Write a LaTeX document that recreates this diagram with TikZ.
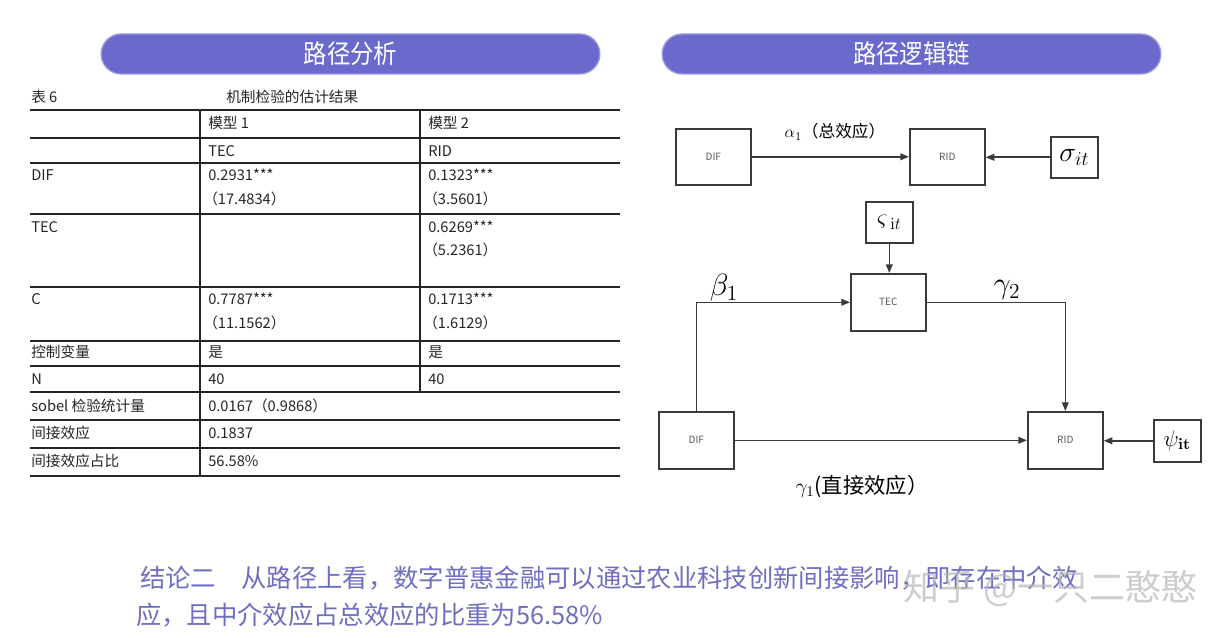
\RequirePackage{fix-cm}
\documentclass[tikz,border=0pt]{standalone}
\usepackage[no-math]{fontspec}
\usepackage{graphicx}
\setmainfont{Noto Sans CJK SC}
\usetikzlibrary{arrows.meta}
\definecolor{banner}{HTML}{6A6ACC}
\definecolor{bannerEdge}{HTML}{9A9ADE}
\definecolor{ink}{HTML}{3A3A3A}
\definecolor{concl}{HTML}{6E6EC2}
\tikzset{
  pill/.style={fill=banner, draw=bannerEdge, line width=1pt, rounded corners=15pt,
    minimum width=374pt, minimum height=30pt, text=white, inner sep=0,
    font=\fontsize{19.5}{20}\selectfont},
  cell/.style={anchor=west, inner sep=0, font=\fontsize{11}{12}\selectfont, text=black!85},
  rule/.style={line width=0.8pt, black!85},
  bigbox/.style={draw=ink, line width=1.2pt, fill=white, minimum width=56.25pt,
    minimum height=42.5pt, inner sep=0, anchor=north west,
    font=\fontsize{7.5}{8}\selectfont, text=black!65},
  smallbox/.style={draw=ink, line width=1.2pt, fill=white, minimum width=35.25pt,
    minimum height=31pt, inner sep=0, anchor=north west},
  arr/.style={draw=ink, line width=1.2pt, -{Triangle[length=6.5pt,width=5pt]}},
  lbl/.style={inner sep=0, text=black},
  concltext/.style={anchor=west, inner sep=0, text=concl, font=\fontsize{19}{20}\selectfont},
}
\begin{document}
\begin{tikzpicture}[x=0.75pt,y=-0.75pt]
\useasboundingbox (0,0) rectangle (1228,638);
\fill[white] (0,0) rectangle (1228,638);

% banners
\node[pill] (ban1) at (350.5,54) {\scalebox{0.9}[1]{路径分析}};
\node[pill] (ban2) at (911.5,54) {\scalebox{0.9}[1]{路径逻辑链}};

% table caption
\node[cell] (cap1) at (31,97) {表 6};
\node[cell] (cap2) at (226,97) {机制检验的估计结果};

% table rules
\foreach \yy in {110,138,163,214,287,341,366,392,420,448,476}
  \draw[rule] (30,\yy) -- (620,\yy);
\draw[rule] (200,110) -- (200,476);
\draw[rule] (420,110) -- (420,392);

% table cells
\node[cell] (h1) at (208,123) {模型 1};
\node[cell] (h2) at (428,123) {模型 2};
\node[cell] (h3) at (208,151) {TEC};
\node[cell] (h4) at (428,151) {RID};

\node[cell] (r1a) at (31,175) {DIF};
\node[cell] (r1b) at (208,175) {0.2931***};
\node[cell] (r1c) at (203,199) {（17.4834）};
\node[cell] (r1d) at (428,175) {0.1323***};
\node[cell] (r1e) at (423,199) {（3.5601）};

\node[cell] (r2a) at (31,227) {TEC};
\node[cell] (r2d) at (428,227) {0.6269***};
\node[cell] (r2e) at (423,250) {（5.2361）};

\node[cell] (r3a) at (31,299) {C};
\node[cell] (r3b) at (208,299) {0.7787***};
\node[cell] (r3c) at (203,323) {（11.1562）};
\node[cell] (r3d) at (428,299) {0.1713***};
\node[cell] (r3e) at (423,323) {（1.6129）};

\node[cell] (r4a) at (31,352) {控制变量};
\node[cell] (r4b) at (208,352) {是};
\node[cell] (r4c) at (428,352) {是};

\node[cell] (r5a) at (31,379) {N};
\node[cell] (r5b) at (208,379) {40};
\node[cell] (r5c) at (428,379) {40};

\node[cell] (r6a) at (31,406) {sobel 检验统计量};
\node[cell] (r6b) at (208,406) {0.0167（0.9868）};

\node[cell] (r7a) at (31,433) {间接效应};
\node[cell] (r7b) at (208,433) {0.1837};

\node[cell] (r8a) at (31,461) {间接效应占比};
\node[cell] (r8b) at (208,461) {56.58\%};

% diagram boxes
\node[bigbox, minimum height=42pt] (difA) at (675,128) {DIF};
\node[bigbox, minimum height=42pt] (ridA) at (909,128) {RID};
\node[smallbox, minimum height=30.75pt] (sig) at (1050,136)
  {\fontsize{21}{21}\selectfont\raisebox{-3pt}{$\sigma_{it}$}};
\node[smallbox, minimum height=30.75pt] (vs) at (865,201)
  {\fontsize{18}{18}\selectfont$\varsigma_{\;\mathrm{i}t}$};
\node[bigbox, minimum height=42.75pt] (tec) at (850,273) {TEC};
\node[bigbox, minimum height=42.75pt] (difB) at (658,411) {DIF};
\node[bigbox, minimum height=42.75pt] (ridB) at (1027,411) {RID};
\node[smallbox, minimum height=31.5pt] (psi) at (1153,419)
  {\fontsize{17}{17}\selectfont\raisebox{-2pt}{$\psi_{\mathbf{it}}$}};

% connectors
\draw[arr] (difA.east) -- (ridA.west);
\draw[arr] (sig.west) -- (sig.west -| ridA.east);
\draw[arr] (vs.south) -- (vs.south |- tec.north);
\draw[arr] (difB.north) |- (tec.west);
\draw[arr] (tec.east) -| (ridB.north);
\draw[arr] (difB.east) -- (ridB.west);
\draw[arr] (psi.west) -- (psi.west -| ridB.east);

% labels
\node[lbl, font=\fontsize{12.5}{12}\selectfont] (la) at (835,132) {$\alpha_1$（总效应）};
\node[lbl, font=\fontsize{23}{23}\selectfont] (lb) at (724,288) {$\beta_1$};
\node[lbl, font=\fontsize{23}{23}\selectfont] (lg2) at (1007,290) {$\gamma_2$};
\node[lbl, font=\fontsize{16}{16}\selectfont] (lg1) at (862,486) {$\gamma_1$(直接效应）};

% conclusion
\node[concltext] (c1) at (140,578) {结论二　从路径上看，数字普惠金融可以通过农业科技创新间接影响，即存在中介效};
\node[concltext] (c2) at (136,615) {应，且中介效应占总效应的比重为56.58\%};

% watermark
\node[anchor=west, inner sep=0, text=gray!55, opacity=0.7, font=\fontsize{27}{28}\selectfont] (wm) at (903,588) {知乎 @一只二憨憨};
\end{tikzpicture}
\end{document}
